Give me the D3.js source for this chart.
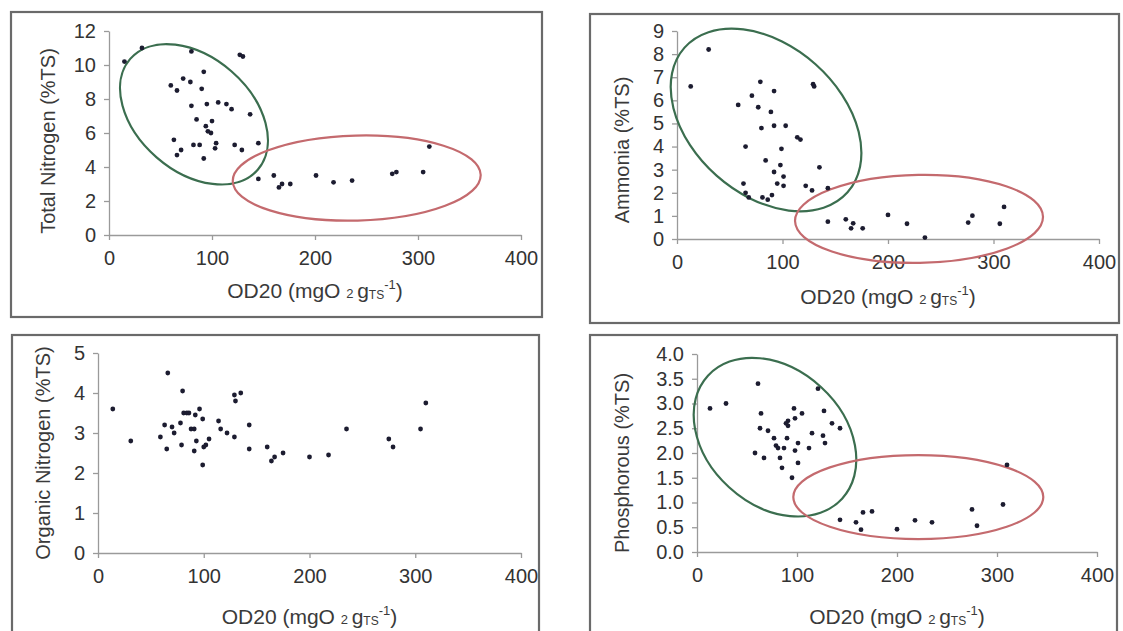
<!DOCTYPE html>
<html>
<head>
<meta charset="utf-8">
<script src="https://cdn.jsdelivr.net/npm/d3@7"></script>
<style>
  body { margin: 0; background: #fff; }
  text { font-family: "Liberation Sans", Arial, sans-serif; }
</style>
</head>
<body>
<svg id="chart"></svg>
<script>
var width = 1123,
    height = 631;

// OD20 values shared by the x axes
var xTicks = [0, 100, 200, 300, 400];

// Total nitrogen (%TS)
var tnX = [15, 32, 80, 127, 130, 92, 60, 66, 72, 79, 90, 80, 95, 106, 114, 119, 137, 85, 100, 94, 96, 99, 63, 145, 104, 82, 88, 122, 129, 103, 70, 66, 92, 145, 160, 168, 165, 176, 201, 218, 236, 275, 279, 305, 311];
var tnY = [10.2, 11.0, 10.8, 10.6, 10.5, 9.6, 8.8, 8.5, 9.2, 9.0, 8.6, 7.6, 7.7, 7.8, 7.7, 7.4, 7.1, 6.8, 6.7, 6.4, 6.1, 6.0, 5.6, 5.4, 5.4, 5.3, 5.3, 5.3, 5.0, 5.1, 5.0, 4.7, 4.5, 3.3, 3.5, 3.0, 2.8, 3.0, 3.5, 3.1, 3.2, 3.6, 3.7, 3.7, 5.2];
var tnTicks = [0, 2, 4, 6, 8, 10, 12];

// Ammonia (%TS)
var amX = [13, 30, 58, 79, 92, 71, 77, 89, 129, 130, 80, 92, 103, 114, 117, 65, 99, 84, 98, 92, 135, 101, 95, 101, 63, 122, 128, 143, 65, 68, 81, 86, 90, 143, 160, 167, 165, 176, 200, 218, 235, 276, 280, 306, 310];
var amY = [6.6, 8.2, 5.8, 6.8, 6.4, 6.2, 5.7, 5.5, 6.7, 6.6, 4.8, 4.9, 4.9, 4.4, 4.3, 4.0, 3.9, 3.4, 3.2, 2.9, 3.1, 2.7, 2.4, 2.3, 2.4, 2.3, 2.1, 2.2, 2.0, 1.8, 1.8, 1.7, 1.9, 0.75, 0.85, 0.68, 0.46, 0.46, 1.04, 0.66, 0.06, 0.71, 1.01, 0.66, 1.39];
var amTicks = [0, 1, 2, 3, 4, 5, 6, 7, 8, 9];

// Organic nitrogen (%TS)
var onX = [14, 31, 66, 80, 59, 63, 65, 70, 72, 78, 79, 81, 84, 86, 92, 96, 99, 88, 91, 93, 91, 100, 102, 105, 99, 114, 116, 122, 129, 129, 135, 130, 143, 143, 160, 164, 167, 175, 200, 218, 235, 275, 279, 305, 310];
var onY = [3.6, 2.8, 4.5, 4.05, 2.9, 3.2, 2.6, 3.15, 3.0, 3.25, 2.7, 3.5, 3.5, 3.5, 3.45, 3.6, 3.35, 3.1, 3.1, 2.8, 2.55, 2.65, 2.7, 2.85, 2.2, 3.3, 3.1, 3.0, 2.9, 3.95, 4.0, 3.8, 3.2, 2.6, 2.65, 2.3, 2.4, 2.5, 2.4, 2.45, 3.1, 2.85, 2.65, 3.1, 3.75];
var onTicks = [0, 1, 2, 3, 4, 5];

// Phosphorous (%TS)
var phX = [13, 29, 61, 64, 63, 71, 58, 67, 77, 79, 81, 87, 90, 83, 85, 95, 91, 91, 89, 98, 97, 105, 98, 101, 101, 112, 115, 121, 127, 126, 128, 135, 143, 143, 159, 164, 166, 175, 200, 218, 235, 275, 280, 306, 310];
var phY = [2.9, 3.0, 3.4, 2.8, 2.5, 2.45, 2.0, 1.9, 2.3, 2.15, 2.1, 2.1, 2.3, 1.9, 1.7, 1.5, 2.55, 2.65, 2.6, 2.7, 2.9, 2.8, 2.05, 2.2, 1.8, 2.1, 2.4, 3.3, 2.85, 2.35, 2.2, 2.6, 2.5, 0.65, 0.6, 0.45, 0.8, 0.82, 0.46, 0.64, 0.6, 0.86, 0.53, 0.96, 1.76];
var phTicks = [0, 0.5, 1, 1.5, 2, 2.5, 3, 3.5, 4];

var svg = d3.select("#chart")
    .attr("width", width)
    .attr("height", height);

var green = "#3b6e4f",
    red = "#c46a6e";

function drawPanel(p) {
  var g = svg.append("g");

  // panel frame
  g.append("rect")
    .attr("x", p.frame[0]).attr("y", p.frame[1])
    .attr("width", p.frame[2] - p.frame[0]).attr("height", p.frame[3] - p.frame[1])
    .attr("fill", "none")
    .attr("stroke", "#6a6a6a")
    .attr("stroke-width", 2.2);

  var x = d3.scaleLinear().domain([0, 400]).range([p.left, p.right]);
  var y = d3.scaleLinear().domain([0, p.yTicks[p.yTicks.length - 1]]).range([p.bottom, p.top]);

  var xAxis = g.append("g")
    .attr("transform", "translate(0," + p.bottom + ")")
    .call(d3.axisBottom(x).tickValues(xTicks).tickSize(5).tickSizeOuter(0).tickPadding(11));
  var yAxis = g.append("g")
    .attr("transform", "translate(" + p.left + ",0)")
    .call(d3.axisLeft(y).tickValues(p.yTicks).tickSize(5).tickSizeOuter(0).tickPadding(8)
      .tickFormat(p.fmt || d3.format("d")));

  [xAxis, yAxis].forEach(function(a) {
    a.selectAll("path, line").attr("stroke", "#9a9a9a").attr("stroke-width", 1.3);
    a.selectAll("text")
      .style("font-size", "20px")
      .attr("fill", "#333")
      .style("font-family", '"Liberation Sans", Arial, sans-serif');
  });

  // ellipses (center in data units, radii in pixels)
  (p.ellipses || []).forEach(function(e) {
    g.append("ellipse")
      .attr("transform", "translate(" + x(e.cx) + "," + y(e.cy) + ") rotate(" + e.angle + ")")
      .attr("rx", e.rx).attr("ry", e.ry)
      .attr("fill", "none")
      .attr("stroke", e.color)
      .attr("stroke-width", 2.2);
  });

  // points
  g.selectAll("circle.pt")
    .data(p.xs.map(function(v, i) { return [v, p.ys[i]]; }))
    .join("circle")
    .attr("class", "pt")
    .attr("cx", function(d) { return x(d[0]); })
    .attr("cy", function(d) { return y(d[1]); })
    .attr("r", 2.4)
    .attr("fill", "#1c1c30");

  // y axis title
  g.append("text")
    .attr("transform", "translate(" + p.yTitlePos[0] + "," + p.yTitlePos[1] + ") rotate(-90)")
    .attr("text-anchor", "middle")
    .attr("dominant-baseline", "central")
    .style("font-size", "20px")
    .attr("fill", "#3a3a3a")
    .text(p.yTitle);

  // x axis title
  var xt = g.append("text")
    .attr("x", (p.left + p.right) / 2)
    .attr("y", p.xTitleY)
    .attr("text-anchor", "middle")
    .style("font-size", "21px")
    .attr("fill", "#3a3a3a");
  xt.append("tspan").text("OD20 (mgO ");
  xt.append("tspan").style("font-size", "13px").text("2 ");
  xt.append("tspan").text("g");
  xt.append("tspan").style("font-size", "12px").attr("dy", 1).text("TS");
  xt.append("tspan").style("font-size", "13px").attr("dy", -10).text("-1");
  xt.append("tspan").attr("dy", 9).text(")");
}

drawPanel({
  frame: [11, 12, 542, 317],
  left: 109, right: 521, top: 31, bottom: 235,
  xs: tnX, ys: tnY, yTicks: tnTicks, xTitleY: 298,
  yTitle: "Total Nitrogen (%TS)", yTitlePos: [48, 141],
  ellipses: [
    {cx: 82.5, cy: 7.1, rx: 84.5, ry: 57, angle: 41, color: green},
    {cx: 240.5, cy: 3.35, rx: 124, ry: 42.5, angle: -1.5, color: red}
  ]
});

drawPanel({
  frame: [590, 14, 1119, 323],
  left: 677, right: 1099, top: 31, bottom: 239,
  xs: amX, ys: amY, yTicks: amTicks, xTitleY: 304,
  yTitle: "Ammonia (%TS)", yTitlePos: [622, 150],
  ellipses: [
    {cx: 84.4, cy: 5.15, rx: 109, ry: 74.5, angle: 41.6, color: green},
    {cx: 229.4, cy: 0.87, rx: 124, ry: 44, angle: -1, color: red}
  ]
});

drawPanel({
  frame: [12, 335, 539, 645],
  left: 98, right: 521, top: 353, bottom: 553,
  xs: onX, ys: onY, yTicks: onTicks, xTitleY: 624,
  yTitle: "Organic Nitrogen (%TS)", yTitlePos: [43, 453]
});

drawPanel({
  frame: [590, 335, 1117, 645],
  left: 697, right: 1097, top: 354, bottom: 552,
  xs: phX, ys: phY, yTicks: phTicks, fmt: d3.format(".1f"), xTitleY: 624,
  yTitle: "Phosphorous (%TS)", yTitlePos: [622, 463],
  ellipses: [
    {cx: 78, cy: 2.32, rx: 91, ry: 68, angle: 42.5, color: green},
    {cx: 221.3, cy: 1.11, rx: 125, ry: 42, angle: 0, color: red}
  ]
});
</script>
</body>
</html>
